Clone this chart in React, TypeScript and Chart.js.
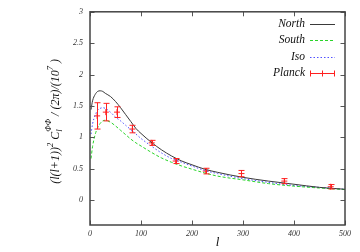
import React, { useEffect, useRef } from "react";
import { Chart, registerables } from "chart.js";

Chart.register(...registerables);

// ---- data ----
const NORTH_L = [2, 5, 10, 15, 20, 25, 30, 40, 50, 60, 70, 80, 90, 100, 120, 140, 160, 180, 200, 225, 250, 300, 350, 400, 450, 500];
const NORTH_V = [1.44, 1.58, 1.68, 1.73, 1.74, 1.73, 1.70, 1.65, 1.57, 1.47, 1.36, 1.25, 1.14, 1.06, 0.92, 0.80, 0.70, 0.62, 0.56, 0.49, 0.44, 0.36, 0.30, 0.25, 0.20, 0.17];

const SOUTH_L = [2, 5, 10, 15, 20, 25, 30, 40, 50, 60, 70, 80, 90, 100, 120, 140, 160, 180, 200, 225, 250, 300, 350, 400, 450, 500];
const SOUTH_V = [0.66, 0.85, 1.04, 1.15, 1.22, 1.26, 1.27, 1.24, 1.18, 1.11, 1.04, 0.97, 0.91, 0.86, 0.76, 0.67, 0.60, 0.54, 0.49, 0.43, 0.38, 0.32, 0.26, 0.22, 0.19, 0.165];

const ISO_L = [2, 5, 10, 15, 20, 25, 30, 40, 50, 60, 70, 80, 90, 100, 120, 140, 160, 180, 200, 225, 250, 300, 350, 400, 450, 500];
const ISO_V = [1.05, 1.21, 1.35, 1.43, 1.46, 1.47, 1.46, 1.40, 1.32, 1.26, 1.19, 1.12, 1.05, 0.98, 0.86, 0.75, 0.66, 0.60, 0.54, 0.47, 0.42, 0.34, 0.28, 0.23, 0.20, 0.17];

const PLANCK_L = [14, 31, 53, 83, 121, 168, 227, 297, 381, 472];
const PLANCK_V = [1.34, 1.40, 1.40, 1.13, 0.91, 0.62, 0.46, 0.42, 0.30, 0.21];
const PLANCK_E = [0.21, 0.14, 0.085, 0.06, 0.04, 0.04, 0.045, 0.05, 0.04, 0.035];

const X_TICKS = [0, 100, 200, 300, 400, 500];
const Y_TICKS = [0, 0.5, 1, 1.5, 2, 2.5, 3];

const SERIES_NAMES = ["North", "South", "Iso", "Planck"];

const NORTH_COLOR = "#3a3a3a";
const SOUTH_COLOR = "#2ad42a";
const ISO_COLOR = "#5050ff";
const PLANCK_COLOR = "#ff2020";

const SERIF = '"Liberation Serif", "DejaVu Serif", serif';

const pts = (ls: number[], vs: number[]) => ls.map((l, i) => ({ x: l, y: vs[i] }));

const framePlugin = {
  id: "frameTicks",
  afterDatasetsDraw(chart: any) {
    const { ctx, chartArea: a, scales } = chart;
    const xs = scales.x, ys = scales.y;
    ctx.save();
    // error bars
    ctx.strokeStyle = PLANCK_COLOR;
    ctx.lineWidth = 1;
    PLANCK_L.forEach((l, i) => {
      const px = Math.round(xs.getPixelForValue(l)) + 0.5;
      const t = ys.getPixelForValue(PLANCK_V[i] + PLANCK_E[i]);
      const b = ys.getPixelForValue(PLANCK_V[i] - PLANCK_E[i]);
      ctx.beginPath();
      ctx.moveTo(px, t); ctx.lineTo(px, b);
      ctx.moveTo(px - 3, t); ctx.lineTo(px + 3, t);
      ctx.moveTo(px - 3, b); ctx.lineTo(px + 3, b);
      ctx.stroke();
    });
    // ticks
    ctx.strokeStyle = "#555";
    ctx.lineWidth = 1;
    const tl = 4.5;
    ctx.beginPath();
    X_TICKS.forEach((v) => {
      const px = Math.round(xs.getPixelForValue(v)) + 0.5;
      ctx.moveTo(px, a.bottom); ctx.lineTo(px, a.bottom - tl);
      ctx.moveTo(px, a.top); ctx.lineTo(px, a.top + tl);
    });
    Y_TICKS.forEach((v) => {
      const py = Math.round(ys.getPixelForValue(v)) + 0.5;
      ctx.moveTo(a.left, py); ctx.lineTo(a.left + tl, py);
      ctx.moveTo(a.right, py); ctx.lineTo(a.right - tl, py);
    });
    ctx.stroke();
    // frame
    ctx.strokeStyle = "#444";
    ctx.lineWidth = 1.5;
    ctx.strokeRect(a.left, a.top, a.right - a.left, a.bottom - a.top);
    ctx.restore();
  },
  afterDraw(chart: any) {
    const { ctx } = chart;
    ctx.save();
    // legend
    const styles = [
      { c: NORTH_COLOR, d: [] as number[] },
      { c: SOUTH_COLOR, d: [3, 2] },
      { c: ISO_COLOR, d: [1.5, 2] },
      { c: PLANCK_COLOR, d: [] as number[] },
    ];
    ctx.font = `italic 11.5px ${SERIF}`;
    ctx.textAlign = "right";
    ctx.textBaseline = "middle";
    SERIES_NAMES.forEach((name, i) => {
      const y = 23.5 + i * 16.5;
      ctx.fillStyle = "#111";
      ctx.fillText(name, 305, y);
      const yy = Math.round(y) + 0.5;
      ctx.strokeStyle = styles[i].c;
      ctx.lineWidth = 1;
      ctx.setLineDash(styles[i].d);
      ctx.beginPath();
      ctx.moveTo(310, yy); ctx.lineTo(335, yy);
      ctx.stroke();
      ctx.setLineDash([]);
      if (i === 3) {
        ctx.beginPath();
        ctx.moveTo(310.5, yy - 3); ctx.lineTo(310.5, yy + 3);
        ctx.moveTo(334.5, yy - 3); ctx.lineTo(334.5, yy + 3);
        ctx.moveTo(322.5, yy - 3); ctx.lineTo(322.5, yy + 3);
        ctx.stroke();
      }
    });
    // y-axis title
    const a = chart.chartArea;
    const big = 12, small = 8.5;
    type Piece = { t: string; s: number; dy: number; sup?: string };
    const pieces: Piece[] = [
      { t: "(l(l+1))", s: big, dy: 0 },
      { t: "2", s: small, dy: -5.5 },
      { t: " C", s: big, dy: 0 },
      { t: "l", s: small, dy: 3, sup: "ΦΦ" },
      { t: " / (2π)/(10", s: big, dy: 0 },
      { t: "7", s: small, dy: -5.5 },
      { t: " )", s: big, dy: 0 },
    ];
    const widthOf = (p: Piece) => {
      ctx.font = `italic ${p.s}px ${SERIF}`;
      let w = ctx.measureText(p.t).width;
      if (p.sup) w = Math.max(w, ctx.measureText(p.sup).width);
      return w;
    };
    const total = pieces.reduce((acc, p) => acc + widthOf(p), 0);
    ctx.translate(58.5, (a.top + a.bottom) / 2 + 3);
    ctx.rotate(-Math.PI / 2);
    ctx.textAlign = "left";
    ctx.textBaseline = "alphabetic";
    ctx.fillStyle = "#111";
    let x = -total / 2;
    pieces.forEach((p) => {
      const w = widthOf(p);
      ctx.font = `italic ${p.s}px ${SERIF}`;
      ctx.fillText(p.t, x, p.dy);
      if (p.sup) ctx.fillText(p.sup, x, -7.5);
      x += w;
    });
    ctx.restore();
  },
};

export default function App() {
  const ref = useRef<HTMLCanvasElement | null>(null);
  useEffect(() => {
    document.body.style.margin = "0";
    const canvas = ref.current!;
    const chart = new Chart(canvas, {
      type: "line",
      data: {
        datasets: [
          {
            label: SERIES_NAMES[0],
            data: pts(NORTH_L, NORTH_V),
            borderColor: NORTH_COLOR,
            borderWidth: 1,
            pointRadius: 0,
            cubicInterpolationMode: "monotone",
          },
          {
            label: SERIES_NAMES[1],
            data: pts(SOUTH_L, SOUTH_V),
            borderColor: SOUTH_COLOR,
            borderWidth: 1,
            borderDash: [3, 2],
            pointRadius: 0,
            cubicInterpolationMode: "monotone",
          },
          {
            label: SERIES_NAMES[2],
            data: pts(ISO_L, ISO_V),
            borderColor: ISO_COLOR,
            borderWidth: 1,
            borderDash: [1.5, 2],
            pointRadius: 0,
            cubicInterpolationMode: "monotone",
          },
          {
            label: SERIES_NAMES[3],
            data: pts(PLANCK_L, PLANCK_V),
            borderColor: PLANCK_COLOR,
            backgroundColor: PLANCK_COLOR,
            showLine: false,
            pointStyle: "cross",
            pointRadius: 3,
            pointBorderWidth: 1,
          },
        ] as any,
      },
      options: {
        responsive: false,
        animation: false,
        layout: { padding: { top: 10, right: 15, left: 0, bottom: 0 } },
        plugins: { legend: { display: false }, tooltip: { enabled: false } },
        scales: {
          x: {
            type: "linear",
            min: 0,
            max: 500,
            grid: { display: false, drawTicks: false },
            border: { display: false },
            afterBuildTicks: (s: any) => { s.ticks = X_TICKS.map((v) => ({ value: v })); },
            afterFit: (s: any) => { s.height = 27; },
            ticks: {
              padding: 4,
              color: "#333",
              font: { family: SERIF, style: "italic", size: 8 },
              callback: (v: any) => String(v),
            },
            title: {
              display: true,
              text: "l",
              color: "#111",
              padding: { top: 0, bottom: 2 },
              font: { family: SERIF, style: "italic", size: 13 },
            },
          },
          y: {
            type: "linear",
            min: -0.4,
            max: 3,
            grid: { display: false, drawTicks: false },
            border: { display: false },
            afterBuildTicks: (s: any) => { s.ticks = Y_TICKS.map((v) => ({ value: v })); },
            afterFit: (s: any) => { s.width = 90; },
            ticks: {
              padding: 7,
              color: "#333",
              font: { family: SERIF, style: "italic", size: 8 },
              callback: (v: any) => String(v),
            },
          },
        },
      } as any,
      plugins: [framePlugin],
    });
    return () => chart.destroy();
  }, []);
  return <canvas ref={ref} width={360} height={252} style={{ display: "block" }} />;
}
